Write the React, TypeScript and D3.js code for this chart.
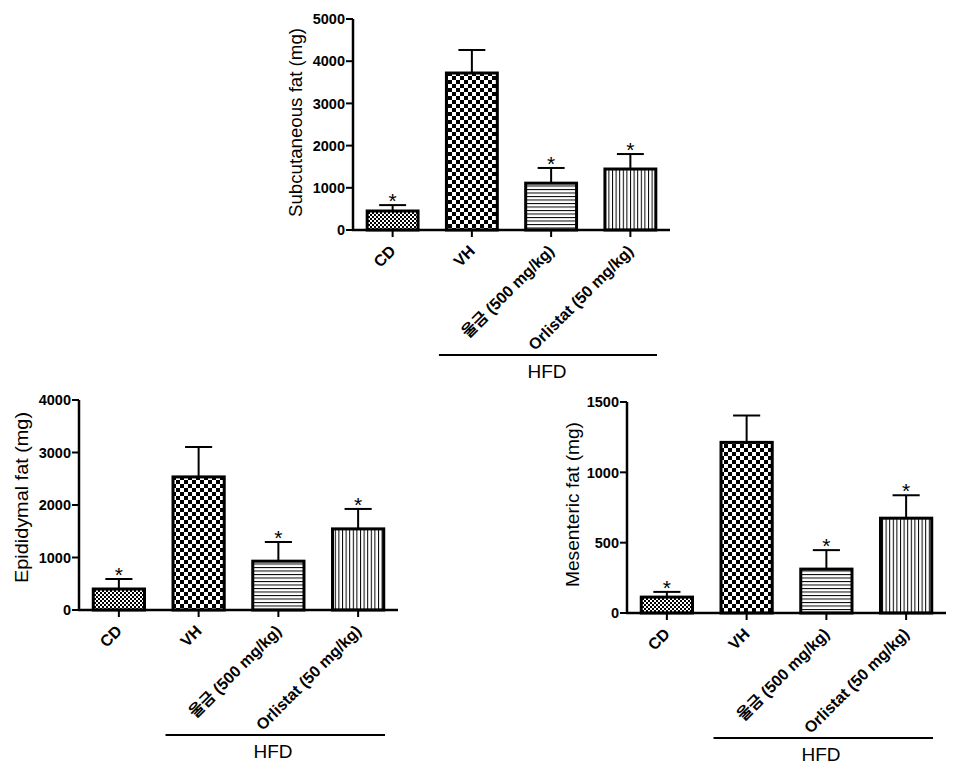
import React from "react";
import * as d3 from "d3";

const categories = ["CD", "VH", "울금 (500 mg/kg)", "Orlistat (50 mg/kg)"];
const patterns = ["fineCheck", "check", "hLines", "vLines"];
const significant = [true, false, true, true];

const subcutaneousMean = [450, 3720, 1110, 1445];
const subcutaneousSem = [140, 545, 360, 355];
const subcutaneousTicks = [0, 1000, 2000, 3000, 4000, 5000];

const epididymalMean = [400, 2535, 930, 1545];
const epididymalSem = [190, 570, 365, 380];
const epididymalTicks = [0, 1000, 2000, 3000, 4000];

const mesentericMean = [113, 1213, 312, 674];
const mesentericSem = [37, 191, 135, 163];
const mesentericTicks = [0, 500, 1000, 1500];

const groupLabel = "HFD";

const FONT = "'Liberation Sans', Arial, 'Noto Sans CJK KR', sans-serif";

type PanelProps = {
  x0: number;
  x1: number;
  yBottom: number;
  yTop: number;
  yMax: number;
  ticks: number[];
  means: number[];
  sems: number[];
  title: string;
  titleX: number;
  titleY: number;
  titleLen: number;
};

function Panel(p: PanelProps) {
  const x = d3
    .scaleBand<string>()
    .domain(categories)
    .range([p.x0, p.x1])
    .paddingInner(0.32)
    .paddingOuter(0.16);
  const y = d3.scaleLinear().domain([0, p.yMax]).range([p.yBottom, p.yTop]);
  const bw = x.bandwidth();
  return (
    <g>
      {categories.map((c, i) => {
        const bx = x(c)!;
        const top = y(p.means[i]);
        const errTop = y(p.means[i] + p.sems[i]);
        const cx = bx + bw / 2;
        return (
          <g key={c}>
            <line x1={cx} x2={cx} y1={top} y2={errTop} stroke="#000" strokeWidth={2} />
            <line x1={cx - bw / 4} x2={cx + bw / 4} y1={errTop} y2={errTop} stroke="#000" strokeWidth={2} />
            <rect
              x={bx + 1.5}
              y={top}
              width={bw - 3}
              height={p.yBottom - top}
              fill={`url(#${patterns[i]})`}
              stroke="#000"
              strokeWidth={3}
            />
            {significant[i] && (
              <text
                x={cx}
                y={errTop + 3}
                textAnchor="middle"
                fontFamily={FONT}
                fontSize={21}
                fill="#000"
              >
                *
              </text>
            )}
          </g>
        );
      })}
      <line x1={p.x0} x2={p.x0} y1={p.yBottom + 1} y2={p.yTop} stroke="#000" strokeWidth={2.5} />
      {p.ticks.map((t) => (
        <g key={t}>
          <line x1={p.x0 - 7} x2={p.x0} y1={y(t)} y2={y(t)} stroke="#000" strokeWidth={2} />
          <text
            x={p.x0 - 8}
            y={y(t)}
            dy="0.36em"
            textAnchor="end"
            fontFamily={FONT}
            fontWeight="bold"
            fontSize={14.5}
          >
            {t}
          </text>
        </g>
      ))}
      <line x1={p.x0 - 1} x2={p.x1} y1={p.yBottom} y2={p.yBottom} stroke="#000" strokeWidth={2.5} />
      {categories.map((c) => {
        const cx = x(c)! + bw / 2;
        return (
          <g key={c}>
            <line x1={cx} x2={cx} y1={p.yBottom} y2={p.yBottom + 7} stroke="#000" strokeWidth={2} />
            <text
              transform={`translate(${cx + 4},${p.yBottom + 22}) rotate(-45)`}
              textAnchor="end"
              fontFamily={FONT}
              fontWeight="bold"
              fontSize={16}
            >
              {c}
            </text>
          </g>
        );
      })}
      <line
        x1={x(categories[1])! - 6}
        x2={p.x1 - 13}
        y1={p.yBottom + 125}
        y2={p.yBottom + 125}
        stroke="#000"
        strokeWidth={2}
      />
      <text
        x={p.x0 + 194}
        y={p.yBottom + 148}
        textAnchor="middle"
        fontFamily={FONT}
        fontSize={19}
      >
        {groupLabel}
      </text>
      <text
        transform={`translate(${p.titleX},${p.titleY}) rotate(-90)`}
        textAnchor="middle"
        dominantBaseline="central"
        fontFamily={FONT}
        fontSize={19}
        textLength={p.titleLen}
        lengthAdjust="spacingAndGlyphs"
      >
        {p.title}
      </text>
    </g>
  );
}

export default function App() {
  return (
    <svg
      width={960}
      height={772}
      style={{ position: "absolute", left: 0, top: 0, background: "#fff" }}
    >
      <defs>
        <pattern id="fineCheck" patternUnits="userSpaceOnUse" width={4} height={4}>
          <rect width={4} height={4} fill="#fff" />
          <rect x={0} y={0} width={2} height={2} fill="#000" />
          <rect x={2} y={2} width={2} height={2} fill="#000" />
        </pattern>
        <pattern id="check" patternUnits="userSpaceOnUse" width={8} height={8}>
          <rect width={8} height={8} fill="#fff" />
          <rect x={0} y={0} width={4} height={4} fill="#000" />
          <rect x={4} y={4} width={4} height={4} fill="#000" />
        </pattern>
        <pattern id="hLines" patternUnits="userSpaceOnUse" width={10} height={3.5}>
          <rect width={10} height={3.5} fill="#fff" />
          <rect x={0} y={0} width={10} height={1} fill="#000" />
        </pattern>
        <pattern id="vLines" patternUnits="userSpaceOnUse" width={3.6} height={10}>
          <rect width={3.6} height={10} fill="#fff" />
          <rect x={0} y={0} width={1} height={10} fill="#000" />
        </pattern>
      </defs>
      <rect width={960} height={772} fill="#fff" />
      <Panel
        x0={353}
        x1={670}
        yBottom={230}
        yTop={19}
        yMax={5000}
        ticks={subcutaneousTicks}
        means={subcutaneousMean}
        sems={subcutaneousSem}
        title="Subcutaneous fat (mg)"
        titleX={295}
        titleY={122.5}
        titleLen={189}
      />
      <Panel
        x0={79}
        x1={398}
        yBottom={610}
        yTop={400}
        yMax={4000}
        ticks={epididymalTicks}
        means={epididymalMean}
        sems={epididymalSem}
        title="Epididymal fat (mg)"
        titleX={21}
        titleY={497.5}
        titleLen={171}
      />
      <Panel
        x0={627}
        x1={946}
        yBottom={613}
        yTop={402}
        yMax={1500}
        ticks={mesentericTicks}
        means={mesentericMean}
        sems={mesentericSem}
        title="Mesenteric fat (mg)"
        titleX={572}
        titleY={504.5}
        titleLen={165}
      />
    </svg>
  );
}
